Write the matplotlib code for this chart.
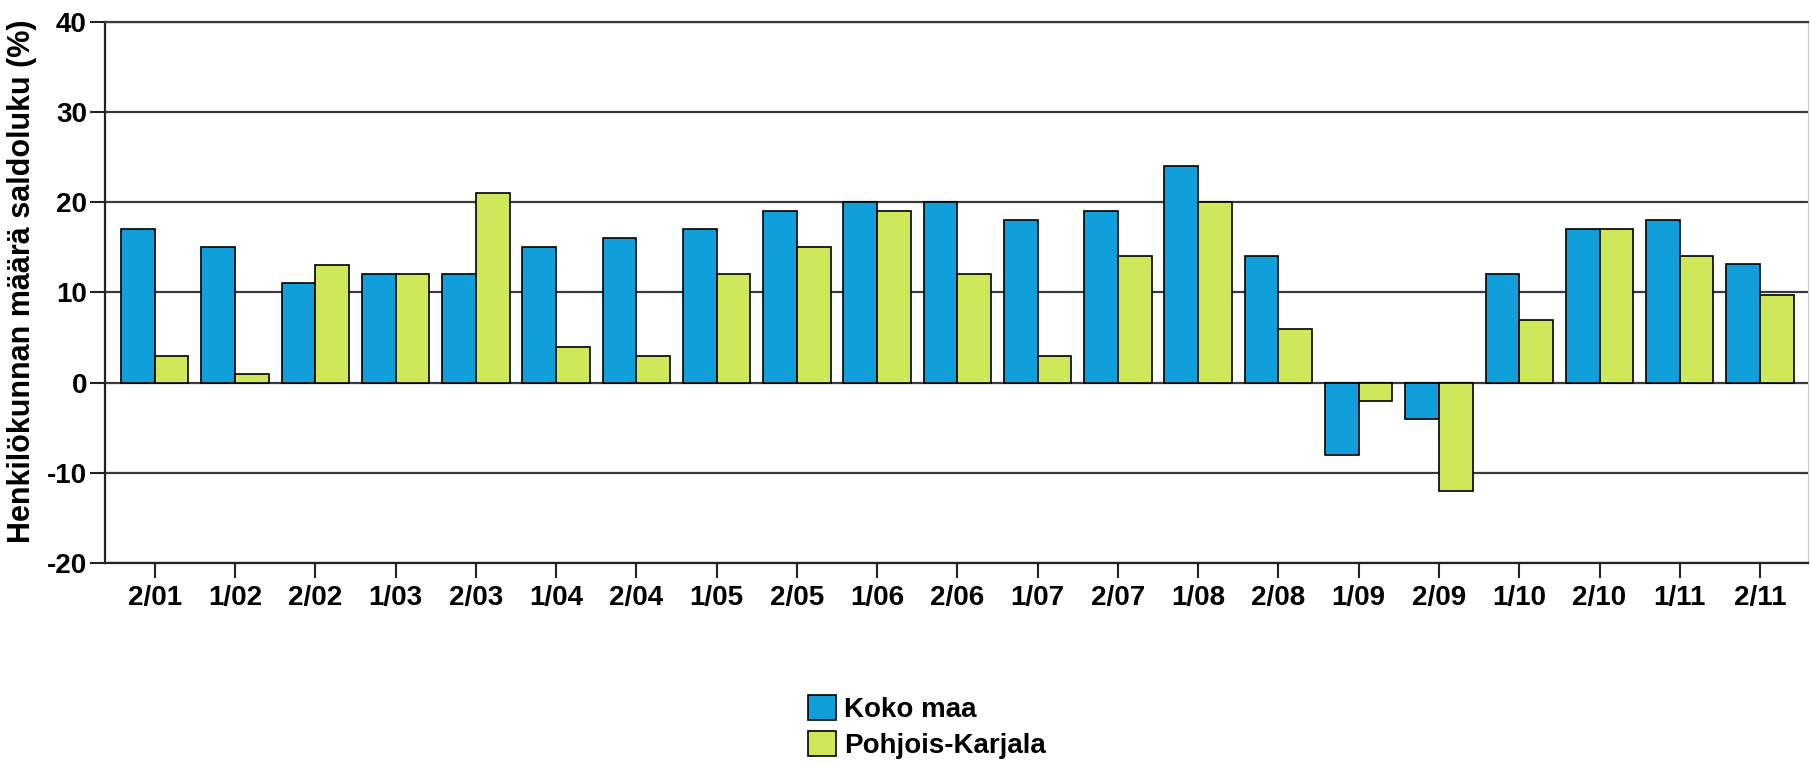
import matplotlib
matplotlib.use("Agg")
import matplotlib.pyplot as plt
import numpy as np

# Data
kaudet = ["2/01", "1/02", "2/02", "1/03", "2/03", "1/04", "2/04", "1/05", "2/05", "1/06", "2/06",
          "1/07", "2/07", "1/08", "2/08", "1/09", "2/09", "1/10", "2/10", "1/11", "2/11"]
koko_maa = [17, 15, 11, 12, 12, 15, 16, 17, 19, 20, 20, 18, 19, 24, 14, -8, -4, 12, 17, 18, 13.2]
pohjois_karjala = [3, 1, 13, 12, 21, 4, 3, 12, 15, 19, 12, 3, 14, 20, 6, -2, -12, 7, 17, 14, 9.7]
y_ticks = [-20, -10, 0, 10, 20, 30, 40]

plt.rcParams['font.family'] = ['Liberation Sans', 'DejaVu Sans']
plt.rcParams['font.weight'] = 'bold'
plt.rcParams['axes.unicode_minus'] = False

fig = plt.figure(figsize=(18.1, 7.67), dpi=100)
ax = fig.add_axes([0.058, 0.266, 0.941, 0.7053])

x = np.arange(len(kaudet))
leveys = 0.42
ax.bar(x - leveys / 2, koko_maa, width=leveys, color='#0fa0db', edgecolor='black',
       linewidth=1.2, label='Koko maa', zorder=3)
ax.bar(x + leveys / 2, pohjois_karjala, width=leveys, color='#cfe85a', edgecolor='black',
       linewidth=1.2, label='Pohjois-Karjala', zorder=3)

ax.set_xlim(-0.62, 20.6)
ax.set_ylim(-20, 40)
ax.set_yticks(y_ticks)
ax.set_xticks(x)
ax.set_xticklabels(kaudet)
ax.yaxis.grid(True, color='#3a3a3a', linewidth=1.6, zorder=1)
ax.set_axisbelow(True)

for s in ['left', 'bottom']:
    ax.spines[s].set_linewidth(1.6)
    ax.spines[s].set_color('#222222')
ax.spines['top'].set_linewidth(1.6)
ax.spines['top'].set_color('#3a3a3a')
ax.spines['right'].set_color('#cccccc')

ax.tick_params(axis='both', direction='out', length=11, width=1.5, color='#222222', labelsize=20)
ax.tick_params(axis='x', pad=5)
ax.tick_params(axis='y', pad=2)
for lbl in ax.get_xticklabels() + ax.get_yticklabels():
    lbl.set_fontweight('bold')

ax.set_ylabel('Henkilökunnan määrä saldoluku (%)', fontsize=22, fontweight='bold')
ax.yaxis.set_label_coords(-0.040, 0.52)

fig.legend(loc='upper left', bbox_to_anchor=(0.4464, 0.0939), frameon=False,
           prop={'size': 20, 'weight': 'bold'}, handlelength=1.0, handleheight=1.0,
           handletextpad=0.3, labelspacing=0.3, borderpad=0, borderaxespad=0)

fig.savefig('out.png', dpi=100)
